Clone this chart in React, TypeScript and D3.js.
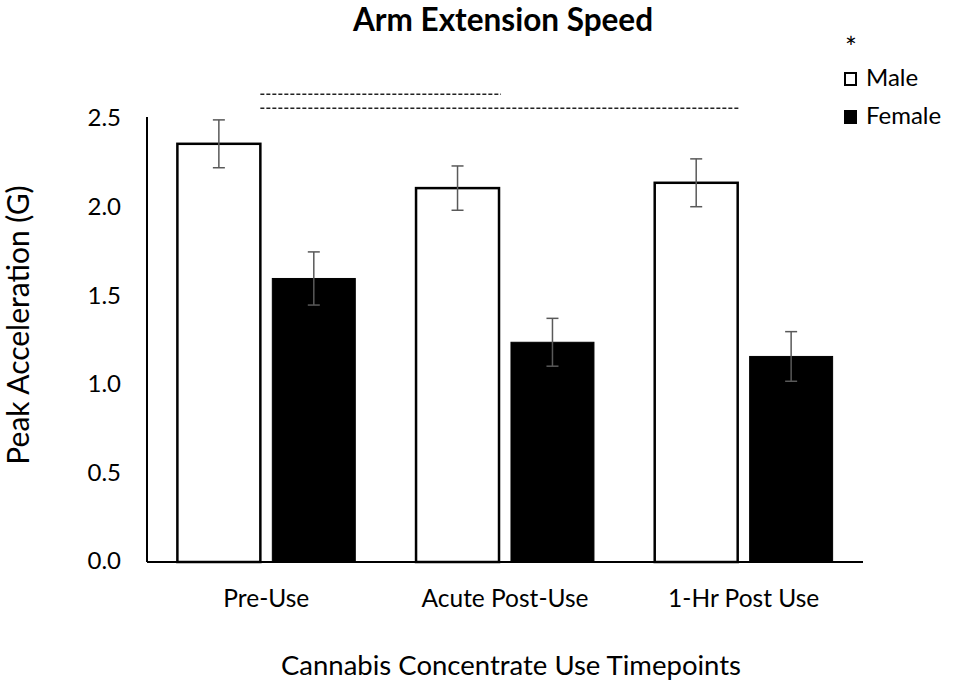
import * as d3 from "d3";

const categories = ["Pre-Use", "Acute Post-Use", "1-Hr Post Use"];
const groups = ["Male", "Female"];
const maleValues = [2.36, 2.11, 2.14];
const femaleValues = [1.6, 1.24, 1.16];
const maleErrors = [0.135, 0.125, 0.135];
const femaleErrors = [0.15, 0.135, 0.14];
const yTicks = [0, 0.5, 1.0, 1.5, 2.0, 2.5];

// dashed significance lines: from male bar of one timepoint to another
const sigFrom = ["Pre-Use", "Pre-Use"];
const sigTo = ["Acute Post-Use", "1-Hr Post Use"];
const sigLevel = [2.64, 2.56];

const W = 957;
const H = 686;
const FONT = "Lato, 'Open Sans', sans-serif";

export default function App() {
  const left = 147;
  const right = 863;
  const bottom = 562;
  const top = 119;

  const x0 = d3.scaleBand<string>().domain(categories).range([left, right]).padding(0);
  const x1 = d3
    .scaleBand<string>()
    .domain(groups)
    .range([0, x0.bandwidth()])
    .paddingInner(0.126)
    .paddingOuter(0.32);
  const y = d3.scaleLinear().domain([0, 2.5]).range([bottom, top]);

  const bars = categories.flatMap((c, i) => [
    { cat: c, group: "Male", value: maleValues[i], err: maleErrors[i] },
    { cat: c, group: "Female", value: femaleValues[i], err: femaleErrors[i] },
  ]);

  const bw = x1.bandwidth();

  return (
    <svg
      width={W}
      height={H}
      style={{ position: "absolute", left: 0, top: 0, background: "#fff" }}
      fontFamily={FONT}
    >
      <text x={503} y={31} textAnchor="middle" fontSize={31.5} fontWeight="bold">
        Arm Extension Speed
      </text>

      {/* bars */}
      {bars.map((b) => {
        const bx = (x0(b.cat) ?? 0) + (x1(b.group) ?? 0);
        const male = b.group === "Male";
        return (
          <rect
            key={b.cat + b.group}
            x={bx}
            y={y(b.value)}
            width={bw}
            height={y(0) - y(b.value)}
            fill={male ? "#fff" : "#000"}
            stroke="#000"
            strokeWidth={male ? 2.5 : 1}
          />
        );
      })}

      {/* error bars */}
      {bars.map((b) => {
        const cx = (x0(b.cat) ?? 0) + (x1(b.group) ?? 0) + bw / 2;
        const y1 = y(b.value + b.err);
        const y2 = y(b.value - b.err);
        return (
          <g key={"e" + b.cat + b.group} stroke="#595959" strokeWidth={1.5}>
            <line x1={cx} x2={cx} y1={y1} y2={y2} />
            <line x1={cx - 6} x2={cx + 6} y1={y1} y2={y1} />
            <line x1={cx - 6} x2={cx + 6} y1={y2} y2={y2} />
          </g>
        );
      })}

      {/* axes */}
      <line x1={left} x2={left} y1={bottom} y2={top - 2} stroke="#000" strokeWidth={2} />
      <line x1={left} x2={right} y1={bottom} y2={bottom} stroke="#000" strokeWidth={2} />

      {yTicks.map((t) => (
        <text key={t} x={121} y={y(t) - 1} dy="0.35em" textAnchor="end" fontSize={24}>
          {d3.format(".1f")(t)}
        </text>
      ))}

      {categories.map((c) => (
        <text key={c} x={(x0(c) ?? 0) + x0.bandwidth() / 2} y={607} textAnchor="middle" fontSize={24.5}>
          {c}
        </text>
      ))}

      <text x={(left + right) / 2 + 6} y={675} textAnchor="middle" fontSize={27.5}>
        Cannabis Concentrate Use Timepoints
      </text>
      <text
        transform={`translate(29,325) rotate(-90)`}
        textAnchor="middle"
        fontSize={30}
      >
        Peak Acceleration (G)
      </text>

      {/* significance lines */}
      {sigFrom.map((f, i) => (
        <line
          key={"s" + i}
          x1={(x0(f) ?? 0) + (x1("Male") ?? 0) + bw}
          x2={(x0(sigTo[i]) ?? 0) + (x1("Male") ?? 0) + bw + 2}
          y1={y(sigLevel[i])}
          y2={y(sigLevel[i])}
          stroke="#222"
          strokeWidth={1.5}
          strokeDasharray="4 2"
        />
      ))}

      {/* legend */}
      <text x={851} y={58} textAnchor="middle" fontSize={28} fill="#000">
        *
      </text>
      {groups.map((g, i) => (
        <g key={g} transform={`translate(844,${72 + i * 38})`}>
          <rect
            x={1}
            y={1}
            width={11}
            height={12}
            fill={g === "Male" ? "#fff" : "#000"}
            stroke="#000"
            strokeWidth={2}
          />
          <text x={22} y={14} fontSize={24}>
            {g}
          </text>
        </g>
      ))}
    </svg>
  );
}
